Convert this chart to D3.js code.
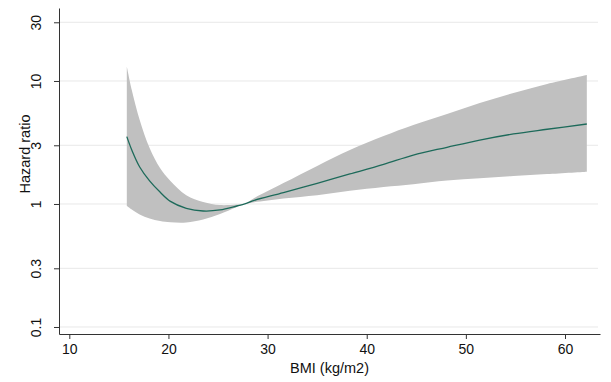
<!DOCTYPE html>
<html>
<head>
<meta charset="utf-8">
<script src="https://cdn.jsdelivr.net/npm/d3@7"></script>
<style>
  html, body { margin: 0; padding: 0; background: #fff; }
  svg { display: block; }
  text { font-family: "Liberation Sans", Arial, Helvetica, sans-serif; fill: #111; }
</style>
</head>
<body>
<svg id="chart" width="611" height="382"></svg>
<script>
// ---- data ----
const bmi   = [15.8, 16.3, 17.1, 18.1, 19.15, 20.2, 21.8, 23.5, 25.2, 26.9, 27.7, 28.5, 31.6, 35.0, 38.3, 41.7, 44.7, 48.1, 51.4, 54.8, 58.2, 62.2];
const hr    = [3.53, 2.75, 2.00, 1.54, 1.25, 1.05, 0.923, 0.877, 0.894, 0.963, 1.0, 1.06, 1.236, 1.474, 1.753, 2.10, 2.50, 2.89, 3.31, 3.71, 4.05, 4.47];
const upper = [13.1, 8.45, 4.82, 2.85, 1.96, 1.54, 1.18, 1.04, 0.98, 0.99, 1.0, 1.10, 1.48, 2.04, 2.75, 3.57, 4.39, 5.39, 6.62, 7.99, 9.46, 11.19];
const lower = [0.963, 0.902, 0.821, 0.762, 0.727, 0.710, 0.707, 0.748, 0.829, 0.945, 1.0, 1.03, 1.11, 1.18, 1.28, 1.375, 1.45, 1.55, 1.62, 1.69, 1.75, 1.83];
const xTicks = [10, 20, 30, 40, 50, 60];
const yTicks = [0.1, 0.3, 1, 3, 10, 30];
const yTickLabels = ["0.1", "0.3", "1", "3", "10", "30"];
const xTitle = "BMI (kg/m2)";
const yTitle = "Hazard ratio";

// ---- layout ----
const svg = d3.select("#chart");
const mLeft = 59, mRight = 600, mTop = 8, mBottom = 334;

const x = d3.scaleLinear().domain([8.96, 63.53]).range([mLeft, mRight]);
const y = d3.scaleLog().domain([0.0877, 39.2]).range([mBottom, mTop]);

const rows = bmi.map((b, i) => ({ b, hr: hr[i], lo: lower[i], hi: upper[i] }));

// gridlines
svg.append("g").selectAll("line").data(yTicks).join("line")
  .attr("x1", mLeft).attr("x2", 598)
  .attr("y1", d => y(d)).attr("y2", d => y(d))
  .attr("stroke", "#e8e8e8").attr("stroke-width", 1);

// confidence band
const area = d3.area()
  .x(d => x(d.b)).y0(d => y(d.lo)).y1(d => y(d.hi))
  .curve(d3.curveCatmullRom.alpha(0.5));
svg.append("path").datum(rows)
  .attr("d", area)
  .attr("fill", "#c0c0c0");

// line
const line = d3.line().x(d => x(d.b)).y(d => y(d.hr)).curve(d3.curveCatmullRom.alpha(0.5));
svg.append("path").datum(rows)
  .attr("d", line)
  .attr("fill", "none")
  .attr("stroke", "#1d6a5a")
  .attr("stroke-width", 1.3);

// x axis
const xAxis = d3.axisBottom(x).tickValues(xTicks).tickSize(5).tickPadding(5).tickSizeOuter(0);
const gx = svg.append("g").attr("transform", `translate(0,${mBottom})`).call(xAxis);
gx.select(".domain").attr("stroke", "#333");
gx.selectAll(".tick line").attr("stroke", "#333");
gx.selectAll(".tick text").attr("font-size", 14).attr("fill", "#111");

// y axis
const yAxis = d3.axisLeft(y).tickValues(yTicks).tickFormat((d, i) => yTickLabels[i]).tickSize(5).tickPadding(0).tickSizeOuter(0);
const gy = svg.append("g").attr("transform", `translate(${mLeft},0)`).call(yAxis);
gy.select(".domain").attr("stroke", "#333");
gy.selectAll(".tick line").attr("stroke", "#333");
gy.selectAll(".tick text")
  .attr("font-size", 14).attr("fill", "#111")
  .attr("text-anchor", "middle")
  .attr("dy", null)
  .attr("x", null)
  .attr("transform", "translate(-23,0) rotate(-90)")
  .attr("dominant-baseline", "central");

// titles
svg.append("text")
  .attr("x", (mLeft + mRight) / 2).attr("y", 373)
  .attr("text-anchor", "middle").attr("font-size", 14.5)
  .text(xTitle);
svg.append("text")
  .attr("transform", "translate(30,154) rotate(-90)")
  .attr("text-anchor", "middle")
  .attr("font-size", 14.5)
  .text(yTitle);
</script>
</body>
</html>
